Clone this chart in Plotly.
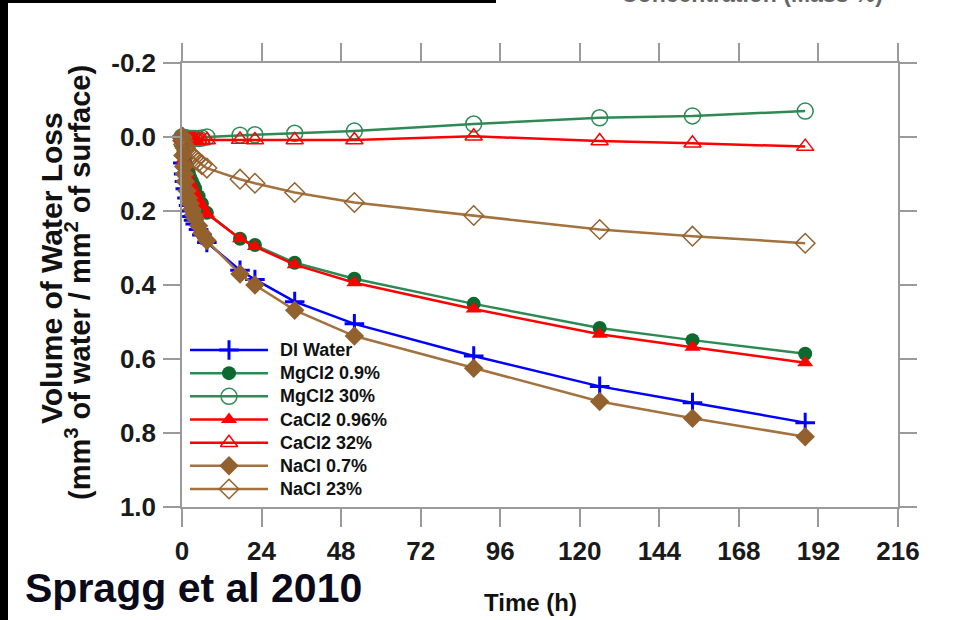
import plotly.graph_objects as go

# ---- data ----
time_h = [0, 0.25, 0.5, 0.75, 1, 1.5, 2, 2.5, 3, 3.5, 4, 5, 6, 7.5, 17.5, 22, 34, 52, 88, 126, 154, 188]

di_water = [0, 0.07, 0.10, 0.12, 0.14, 0.165, 0.185, 0.20, 0.215, 0.225, 0.235, 0.25, 0.265, 0.285,
            0.36, 0.385, 0.445, 0.505, 0.592, 0.674, 0.718, 0.772]
mgcl2_09 = [0, 0.02, 0.04, 0.05, 0.06, 0.08, 0.095, 0.11, 0.12, 0.13, 0.14, 0.16, 0.18, 0.205,
            0.275, 0.292, 0.34, 0.383, 0.451, 0.516, 0.549, 0.586]
mgcl2_30 = [0, 0, 0.002, 0.002, 0.003, 0.003, 0.004, 0.004, 0.004, 0.004, 0.004, 0.004, 0.003, 0.0,
            -0.005, -0.006, -0.010, -0.016, -0.035, -0.052, -0.057, -0.070]
cacl2_096 = [0, 0.04, 0.06, 0.07, 0.08, 0.10, 0.115, 0.125, 0.135, 0.145, 0.155, 0.17, 0.185, 0.207,
             0.275, 0.296, 0.345, 0.394, 0.465, 0.533, 0.568, 0.61]
cacl2_32 = [0, 0.003, 0.005, 0.006, 0.007, 0.008, 0.008, 0.008, 0.008, 0.008, 0.008, 0.008, 0.008, 0.008,
            0.007, 0.008, 0.008, 0.008, -0.002, 0.011, 0.017, 0.026]
nacl_07 = [0, 0.05, 0.08, 0.10, 0.12, 0.145, 0.165, 0.18, 0.195, 0.21, 0.22, 0.24, 0.26, 0.28,
           0.37, 0.40, 0.468, 0.538, 0.625, 0.715, 0.76, 0.81]
nacl_23 = [0, 0.01, 0.02, 0.025, 0.03, 0.037, 0.042, 0.047, 0.052, 0.056, 0.06, 0.067, 0.075, 0.084,
           0.114, 0.125, 0.15, 0.177, 0.212, 0.25, 0.268, 0.287]

series_names = ["DI Water", "MgCl2 0.9%", "MgCl2 30%", "CaCl2 0.96%", "CaCl2 32%", "NaCl 0.7%", "NaCl 23%"]
series_values = [di_water, mgcl2_09, mgcl2_30, cacl2_096, cacl2_32, nacl_07, nacl_23]

x_ticks = [0, 24, 48, 72, 96, 120, 144, 168, 192, 216]
y_ticks = [-0.2, 0.0, 0.2, 0.4, 0.6, 0.8, 1.0]
y_ticklabels = ["-0.2", "0.0", "0.2", "0.4", "0.6", "0.8", "1.0"]

# ---- styles ----
BLUE = "#0000ff"
GREEN_LINE = "#2e8a55"
GREEN_MARK = "#0b6a2f"
RED = "#ff0000"
BROWN = "#a2723f"
BROWN_MARK = "#93612e"

styles = [
    dict(line=BLUE, marker=dict(symbol="cross-thin", size=14, color=BLUE, line=dict(color=BLUE, width=3))),
    dict(line=GREEN_LINE, marker=dict(symbol="circle", size=14, color=GREEN_MARK)),
    dict(line=GREEN_LINE, marker=dict(symbol="circle-open", size=16, color=GREEN_LINE, line=dict(width=1.5))),
    dict(line=RED, marker=dict(symbol="triangle-up", size=14, color=RED)),
    dict(line=RED, marker=dict(symbol="triangle-up-open", size=15, color=RED, line=dict(width=1.5))),
    dict(line=BROWN, marker=dict(symbol="diamond", size=15, color=BROWN_MARK)),
    dict(line=BROWN, marker=dict(symbol="diamond-open", size=15, color=BROWN_MARK, line=dict(width=1.5))),
]

W, H = 955, 620
L, R, T, B = 182, 57, 63, 113
pw, ph = W - L - R, H - T - B

def px(xp):
    return (xp - L) / pw

def py(yp):
    return (H - B - yp) / ph

AXCOL = "#9a9a9a"
FONT = "Liberation Sans, Arial, sans-serif"
TXT = "#1a1a1a"

fig = go.Figure()
for name, vals, st in zip(series_names, series_values, styles):
    fig.add_trace(go.Scatter(
        x=time_h, y=vals, name=name, mode="lines+markers", showlegend=False,
        line=dict(color=st["line"], width=2.5),
        marker=st["marker"], cliponaxis=False,
    ))

# ---- legend drawn on a small overlay axis (sample line + marker, then the label) ----
n = len(series_names)
for i, (name, st) in enumerate(zip(series_names, styles)):
    mk = dict(st["marker"])
    mk["opacity"] = [0, 1, 0]
    fig.add_trace(go.Scatter(
        x=[0, 0.5, 1], y=[i, i, i], xaxis="x2", yaxis="y2", mode="lines+markers",
        showlegend=False, hoverinfo="skip", cliponaxis=False,
        line=dict(color=st["line"], width=2.5), marker=mk,
    ))

axis_common = dict(
    showgrid=False, zeroline=False, showline=True, linecolor=AXCOL, linewidth=1.5,
    mirror="ticks", ticks="outside", tickwidth=1.5, tickcolor=AXCOL,
    tickfont=dict(family=FONT, size=26, color=TXT, weight="bold"), ticklabelstandoff=2,
    automargin=False, fixedrange=True,
)

annotations = [
    dict(text="<b>Volume of Water Loss</b>",
         x=px(51), y=py(268), xref="paper", yref="paper", textangle=-90, showarrow=False,
         font=dict(family=FONT, size=30, color="#111111"), xanchor="center", yanchor="middle"),
    dict(text="<b>(mm<sup>3</sup> of water / mm<sup>2</sup> of surface)</b>",
         x=px(78), y=py(283), xref="paper", yref="paper", textangle=-90, showarrow=False,
         font=dict(family=FONT, size=29, color="#111111"), xanchor="center", yanchor="middle"),
    dict(text="<b>Time (h)</b>", x=px(530), y=py(602), xref="paper", yref="paper", showarrow=False,
         font=dict(family=FONT, size=24, color="#111111"), xanchor="center", yanchor="middle"),
    dict(text="<b>Spragg et al 2010</b>", x=px(23), y=py(588), xref="paper", yref="paper", showarrow=False,
         font=dict(family=FONT, size=41, color="#0a0a1a"), xanchor="left", yanchor="middle"),
    dict(text="<b>Concentration (Mass %)</b>", x=px(752), y=py(-6.5), xref="paper", yref="paper",
         showarrow=False, font=dict(family=FONT, size=23, color="#666666"),
         xanchor="center", yanchor="middle"),
]
for i, name in enumerate(series_names):
    annotations.append(dict(
        text="<b>" + name + "</b>", x=px(278), y=i, xref="paper", yref="y2", showarrow=False,
        font=dict(family=FONT, size=18, color="#111111"), xanchor="left", yanchor="middle",
    ))

shapes = [
    dict(type="rect", xref="paper", yref="paper", x0=px(-2), x1=px(8), y0=py(625), y1=py(-5),
         fillcolor="black", line=dict(width=0), layer="above"),
    dict(type="rect", xref="paper", yref="paper", x0=px(-2), x1=px(496), y0=py(3), y1=py(-5),
         fillcolor="black", line=dict(width=0), layer="above"),
]

fig.update_layout(
    width=W, height=H, autosize=False,
    margin=dict(l=L, r=R, t=T, b=B, pad=0),
    paper_bgcolor="white", plot_bgcolor="white",
    font=dict(family=FONT),
    showlegend=False,
    xaxis=dict(range=[0, 216], tickvals=x_ticks, ticktext=[str(v) for v in x_ticks],
               ticklen=18, **axis_common),
    yaxis=dict(range=[1.0, -0.2], tickvals=y_ticks, ticktext=y_ticklabels,
               ticklen=17, **axis_common),
    xaxis2=dict(domain=[px(190), px(268)], range=[0, 1], anchor="y2", visible=False, fixedrange=True),
    yaxis2=dict(domain=[py(500.6), py(338.4)], range=[n - 0.5, -0.5], anchor="x2", visible=False,
                fixedrange=True),
    annotations=annotations,
    shapes=shapes,
)

fig.write_html("out.html", config={"displayModeBar": False},
               post_script="document.body.style.margin='0';")
